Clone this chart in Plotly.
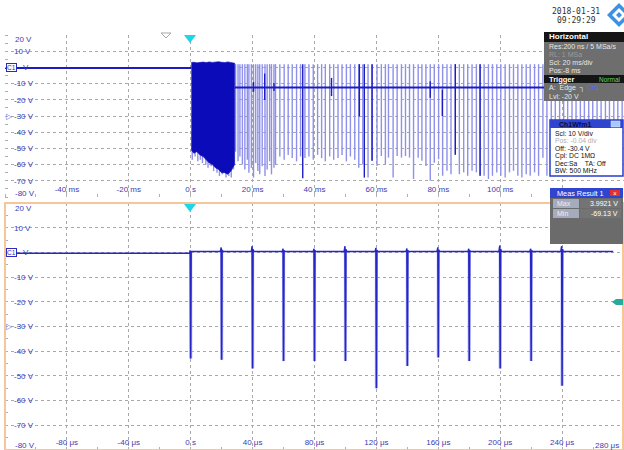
import plotly.graph_objects as go

W, H = 624, 450

# ---------------- data: upper panel (time in ms, volts) ----------------
top_base_pre = -0.4
top_base_post = -12.4
burst_t = [0.2, 1, 2, 3, 4, 5, 6, 7, 8, 9, 10, 11, 12, 13, 14.2]
burst_hi = [3.0, 3.2, 2.8, 3.1, 3.3, 3.0, 3.4, 3.1, 3.3, 3.5, 3.2, 3.0, 3.4, 3.1, 2.6]
burst_lo = [-51, -53, -52, -54, -55, -57, -59, -60, -62, -63, -65, -65, -66, -64, -60]
jag_t = [0.5, 1.4, 2.3, 3.1, 3.8, 4.9, 5.6, 6.6, 7.4, 8.5, 9.3, 10.2, 11.4, 12.3, 13.1, 13.8]
jag_lo = [-57, -55, -58, -57, -59, -60, -62, -61, -64, -65, -67, -66, -68, -67, -68, -63]

spike_top = 2.0
spike_t = [14.5, 15.3, 15.9, 16.7, 17.5, 18.3, 18.8, 19.6, 20.3, 21.0, 21.7, 22.3, 23.1, 24.0, 24.7, 25.5, 26.1, 26.9, 27.4,
           28.8, 30.2, 31.5, 32.8, 34.2, 35.5, 36.9, 38.2, 39.6, 41.0, 42.3, 43.5, 44.9, 46.2, 47.6, 48.9, 50.3, 51.6, 53.0, 54.3, 55.6, 57.3,
           58.6, 60.2, 61.6, 62.9, 63.9, 65.4, 66.7, 68.1, 69.4, 70.7, 72.0, 73.5, 74.7, 76.0, 77.4, 78.7, 80.1, 81.4, 82.8, 84.1,
           85.5, 86.8, 88.2, 89.5, 90.9, 92.3, 93.5, 94.8, 96.2, 97.5, 98.9, 100.2, 101.6, 103.0, 104.3, 105.7, 107.0, 108.4, 109.7, 111.1,
           112.4, 113.8, 115.1,
           116.5, 117.8, 119.2, 120.5, 121.8, 123.2, 124.5, 125.9, 127.2, 128.6, 129.9, 131.3, 132.6, 134.0, 135.3, 136.7, 138.0, 139.4]
spike_min = [-52, -58, -55, -60, -63, -57, -65, -62, -68, -59, -64, -66, -61, -67, -63, -58, -66, -62, -60,
             -55, -57, -54, -56, -58, -55, -56, -55, -57, -54, -56, -58, -55, -57, -56, -54, -58, -55, -57, -62, -60, -68,
             -57.7, -60.8, -54.7, -59.8, -55.7, -67.9, -54.7, -55.7, -54.7, -55.7, -68.9, -55.7, -57.7, -60.8, -69.9, -58.8,
             -56.7, -66.9, -63.8, -65.9, -53.9, -65.9, -64.8, -66.9, -63.8, -64.8, -66.9, -66.9, -68.9, -66.9, -64.8, -66.9,
             -67.9, -64.8, -63.8, -66.9, -67.9, -65.9, -66.9, -64.8, -66.9, -55.7, -66.9,
             -66, -64, -67, -65, -66, -63, -67, -65, -66, -64, -67, -66, -65, -64, -67, -66, -65, -64]

dark_t = [20.3, 23.9, 26.9, 36.2, 45.5, 54.5, 56.1, 58.6, 77.4, 81.3, 85.5, 93.5]
dark_hi = [-9, -3.8, -9.6, 2.0, -6.5, 2.0, 2.0, 2.0, -8.6, -13.7, 2.0, 2.0]
dark_lo = [-15, -20.1, -14.6, -68.5, -17.7, -30.3, -68, -57.7, -18.8, -30, -53.9, -66.9]

# ---------------- data: lower panel (time in us, volts) ----------------
lo_base_pre = -0.3
lo_base_post = 0.4
lo_spike_t = [0, 20, 40, 60, 80, 100, 120, 140, 160, 180, 200, 220, 240]
lo_spike_min = [-43, -43.5, -47, -44, -44, -44, -55, -46, -42.5, -44, -47, -44, -54]
lo_spike_peak = [0.8, 2.0, 2.5, 1.5, 1.5, 2.5, 1.8, 1.6, 2.0, 1.5, 2.8, 1.5, 2.5]
lo_end_t = 273

# ---------------- axis tick data ----------------
volt_vals = [20, 10, 0, -10, -20, -30, -40, -50, -60, -70, -80]
volt_text = ["", "10 V", "\u00a0\u00a0\u00a0\u00a0V", "-10 V", "-20 V", "-30 V", "-40 V", "-50 V", "-60 V", "-70 V", ""]
edge_text = ["20 V", "-80 V"]
ms_vals = [-40, -20, 0, 20, 40, 60, 80, 100, 120]
ms_text = ["-40 ms", "-20 ms", "0 s", "20 ms", "40 ms", "60 ms", "80 ms", "100 ms", ""]
us_vals = [-80, -40, 0, 40, 80, 120, 160, 200, 240, 280]
us_text = ["-80 \u03bcs", "-40 \u03bcs", "0 s", "40 \u03bcs", "80 \u03bcs", "120 \u03bcs", "160 \u03bcs", "200 \u03bcs", "240 \u03bcs", ""]
us_last = "280 \u03bcs"

DARK = "#1c1cc4"
LIGHT = "#8e90ea"
TXT = "#3b3bb5"
GRID = "#a9a9a9"


def px(x):
    return x / W


def py(y):
    return 1 - y / H


fig = go.Figure()

# upper panel traces
sx, sy = [], []
for t, m in zip(spike_t, spike_min):
    sx += [t, t, None]
    sy += [spike_top, m, None]
for t, m in zip(jag_t, jag_lo):
    sx += [t, t, None]
    sy += [-40, m, None]
fig.add_trace(go.Scatter(x=sx, y=sy, mode="lines", line=dict(color=LIGHT, width=1.4),
                         xaxis="x", yaxis="y", hoverinfo="skip"))

fig.add_trace(go.Scatter(x=burst_t + burst_t[::-1], y=burst_hi + burst_lo[::-1], mode="lines",
                         fill="toself", fillcolor="#0b0bba", line=dict(color="#0b0bba", width=0.6),
                         xaxis="x", yaxis="y", hoverinfo="skip"))

fig.add_trace(go.Scatter(x=[-60, burst_t[0], None, burst_t[-1], 140],
                         y=[top_base_pre, top_base_pre, None, top_base_post, top_base_post],
                         mode="lines", line=dict(color=DARK, width=2), xaxis="x", yaxis="y", hoverinfo="skip"))

dx, dy = [], []
for t, a, b in zip(dark_t, dark_hi, dark_lo):
    dx += [t, t, None]
    dy += [a, b, None]
fig.add_trace(go.Scatter(x=dx, y=dy, mode="lines", line=dict(color=DARK, width=1.4),
                         xaxis="x", yaxis="y", hoverinfo="skip"))

# lower panel traces
hx, hy = [], []
for t, m in zip(lo_spike_t, lo_spike_min):
    hx += [t, t, None]
    hy += [lo_base_post, m, None]
fig.add_trace(go.Scatter(x=hx, y=hy, mode="lines", line=dict(color="#b5b7f3", width=3.2),
                         xaxis="x2", yaxis="y2", hoverinfo="skip"))

lx, ly = [-120], [lo_base_pre]
for t, m, pk in zip(lo_spike_t, lo_spike_min, lo_spike_peak):
    b0 = lo_base_pre if t <= 0 else lo_base_post
    lx += [t - 0.8, t - 0.3, t, t + 0.3, t + 0.8]
    ly += [b0, pk, m, pk * 0.5, lo_base_post]
lx += [lo_end_t]
ly += [lo_base_post]
fig.add_trace(go.Scatter(x=lx, y=ly, mode="lines", line=dict(color="#2626c6", width=1.5),
                         xaxis="x2", yaxis="y2", hoverinfo="skip"))

tickfont = dict(family="Liberation Sans", size=8, color=TXT)
common_x = dict(showgrid=True, gridcolor=GRID, griddash="dot", gridwidth=1, zeroline=False,
                showline=False, ticks="", ticklabelposition="inside", ticklabeloverflow="allow",
                tickfont=tickfont, fixedrange=True)
common_y = dict(showgrid=True, gridcolor=GRID, griddash="dot", gridwidth=1, zeroline=False,
                showline=False, ticks="", ticklabelposition="inside", ticklabeloverflow="allow",
                tickfont=tickfont, tickmode="array", tickvals=volt_vals, ticktext=volt_text,
                range=[-80, 20], fixedrange=True, ticklabelstandoff=6)

fig.update_layout(
    width=W, height=H, margin=dict(l=0, r=0, t=0, b=0),
    paper_bgcolor="white", plot_bgcolor="white", showlegend=False,
    xaxis=dict(domain=[px(5), 1], range=[-60, 140], anchor="y", tickmode="array",
               tickvals=ms_vals, ticktext=ms_text,
               minor=dict(ticks="inside", ticklen=3, tickcolor="#b0b0b0", dtick=10, showgrid=False),
               mirror="ticks", **common_x),
    yaxis=dict(domain=[py(197), py(35)], anchor="x",
               minor=dict(ticks="inside", ticklen=3, tickcolor="#b0b0b0", dtick=5, showgrid=False),
               **common_y),
    xaxis2=dict(domain=[px(5), 1], range=[-120, 280], anchor="y2", tickmode="array",
                tickvals=us_vals, ticktext=us_text,
                minor=dict(ticks="inside", ticklen=3, tickcolor="#b0b0b0", dtick=20, showgrid=False),
                **common_x),
    yaxis2=dict(domain=[0, py(203)], anchor="x2",
                minor=dict(ticks="inside", ticklen=3, tickcolor="#b0b0b0", dtick=5, showgrid=False),
                **common_y),
)

shapes = []
ann = []


def rect(x0, y0, x1, y1, fill, line=None, lw=0):
    shapes.append(dict(type="rect", xref="paper", yref="paper", x0=px(x0), x1=px(x1), y0=py(y1), y1=py(y0),
                       fillcolor=fill, line=dict(color=line or fill, width=lw), layer="above"))


def poly(pts, fill, line=None, lw=0):
    path = "M " + " L ".join(f"{px(a):.5f},{py(b):.5f}" for a, b in pts) + " Z"
    shapes.append(dict(type="path", xref="paper", yref="paper", path=path, fillcolor=fill,
                       line=dict(color=line or fill, width=lw), layer="above"))


def text(x, y, s, size=7.5, color="#e8e8e8", anchor="left", family="Liberation Sans", **kw):
    ann.append(dict(x=px(x), y=py(y), xref="paper", yref="paper", text=s, showarrow=False,
                    xanchor=anchor, yanchor="middle", font=dict(size=size, color=color, family=family), **kw))


# lower panel orange frame
shapes.append(dict(type="rect", xref="paper", yref="paper", x0=px(5), x1=px(623), y0=py(450), y1=py(203),
                   line=dict(color="#f6c697", width=2), fillcolor="rgba(0,0,0,0)", layer="above"))

# trigger / position markers
poly([(184, 35), (196, 35), (190, 43)], "#1fd5e8")
poly([(184, 204), (196, 204), (190, 212)], "#1fd5e8")
poly([(161, 33), (171, 33), (166, 38)], "white", "#a8a8a8", 1)
poly([(612, 302), (616, 299), (623, 299), (623, 305), (616, 305)], "#2aa89a")

# edge tick labels (drawn slightly inside the panel, as on the scope)
text(13, 39, edge_text[0], size=8, color=TXT)
text(13, 193, edge_text[1], size=8, color=TXT)
text(13, 208, edge_text[0], size=8, color=TXT)
text(13, 445, edge_text[1], size=8, color=TXT)
text(621, 445, us_last, size=8, color=TXT, anchor="right")

# C1 markers and offset arrows
for yy in (67.5, 252):
    text(6, yy, "C1", size=6.5, color="#2b2bc0", bordercolor="#2b2bc0", borderwidth=1, borderpad=0,
         bgcolor="white")
for yy in (116, 326):
    text(4, yy, "\u25b7", size=8, color="#7070e8")

# date + logo
text(576, 12, "2018-01-31", size=8, color="#303030", anchor="center", family="DejaVu Sans Mono")
text(576, 21, "09:29:29", size=8, color="#303030", anchor="center", family="DejaVu Sans Mono")
poly([(607, 15), (619, 3), (631, 15), (619, 27)], "#3d91e2")
poly([(612, 15), (619, 8), (626, 15), (619, 22)], "white")
poly([(616, 15), (619, 12), (622, 15), (619, 18)], "#3d91e2")

# Horizontal box
rect(544, 32, 626, 101, "#6e6e6e")
rect(544, 32, 626, 42, "#151515")
rect(544, 75, 626, 83, "#151515")
text(547, 37, "<b>Horizontal</b>", size=8, color="white")
text(547, 46, "Res:200 ns / 5 MSa/s", size=7)
text(547, 54, "RL: 1 MSa", size=7, color="#9c9c9c")
text(547, 62, "Scl: 20 ms/div", size=7)
text(547, 70, "Pos:-8 ms", size=7)
text(547, 79, "<b>Trigger</b>", size=7.5, color="white")
text(623, 79, "Normal", size=6.5, color="#5fdc5f", anchor="right")
text(547, 88, "A:\u00a0\u00a0Edge\u00a0\u00a0\u2510 <span style='color:#5a6cff'>Ch1</span>", size=7)
text(547, 96, "Lvl: -20 V", size=7)

# Ch1Wfm1 box
rect(550, 120, 623, 176, "white", "#2a3cc8", 1.5)
rect(550, 120, 623, 128, "#2f45cf")
text(575, 124, "<b>Ch1Wfm1</b>", size=7, color="#0c0c40", anchor="center")
rect(611, 121, 620, 127, "#a8c6ff", "#e0ecff", 0.5)
text(553, 133, "Scl: 10 V/div", size=6.8, color="#111")
text(553, 140.5, "Pos: -0.04 div", size=6.8, color="#b0b0b0")
text(553, 148, "Off: -30.4 V", size=6.8, color="#111")
text(553, 155.5, "Cpl: DC 1M\u03a9", size=6.8, color="#111")
text(553, 163, "Dec:Sa\u00a0\u00a0\u00a0\u00a0TA: Off", size=6.8, color="#111")
text(553, 170.5, "BW: 500 MHz", size=6.8, color="#111")

# Meas Result box
rect(550, 188, 623, 244, "#6b6b6b")
rect(550, 188, 623, 198, "#2f45cf")
text(555, 193, "Meas Result 1", size=7.3, color="white")
rect(610, 190, 620, 196, "#e03030")
text(615, 193, "\u00d7", size=6.5, color="white", anchor="center")
rect(553, 199, 579, 208, "#a4abbd")
rect(553, 209, 579, 218, "#a4abbd")
rect(580, 199, 621, 208, "#747474")
rect(580, 209, 621, 218, "#747474")
text(555, 203.5, "Max", size=7, color="#eef")
text(555, 213.5, "Min", size=7, color="#eef")
text(620, 203.5, "3.9921 V", size=7, color="white", anchor="right")
text(620, 213.5, "-69.13 V", size=7, color="white", anchor="right")

fig.update_layout(shapes=shapes, annotations=ann)
fig.write_html("out.html", config={"displayModeBar": False, "staticPlot": True},
               post_script="document.body.style.margin='0';document.body.style.overflow='hidden';")
